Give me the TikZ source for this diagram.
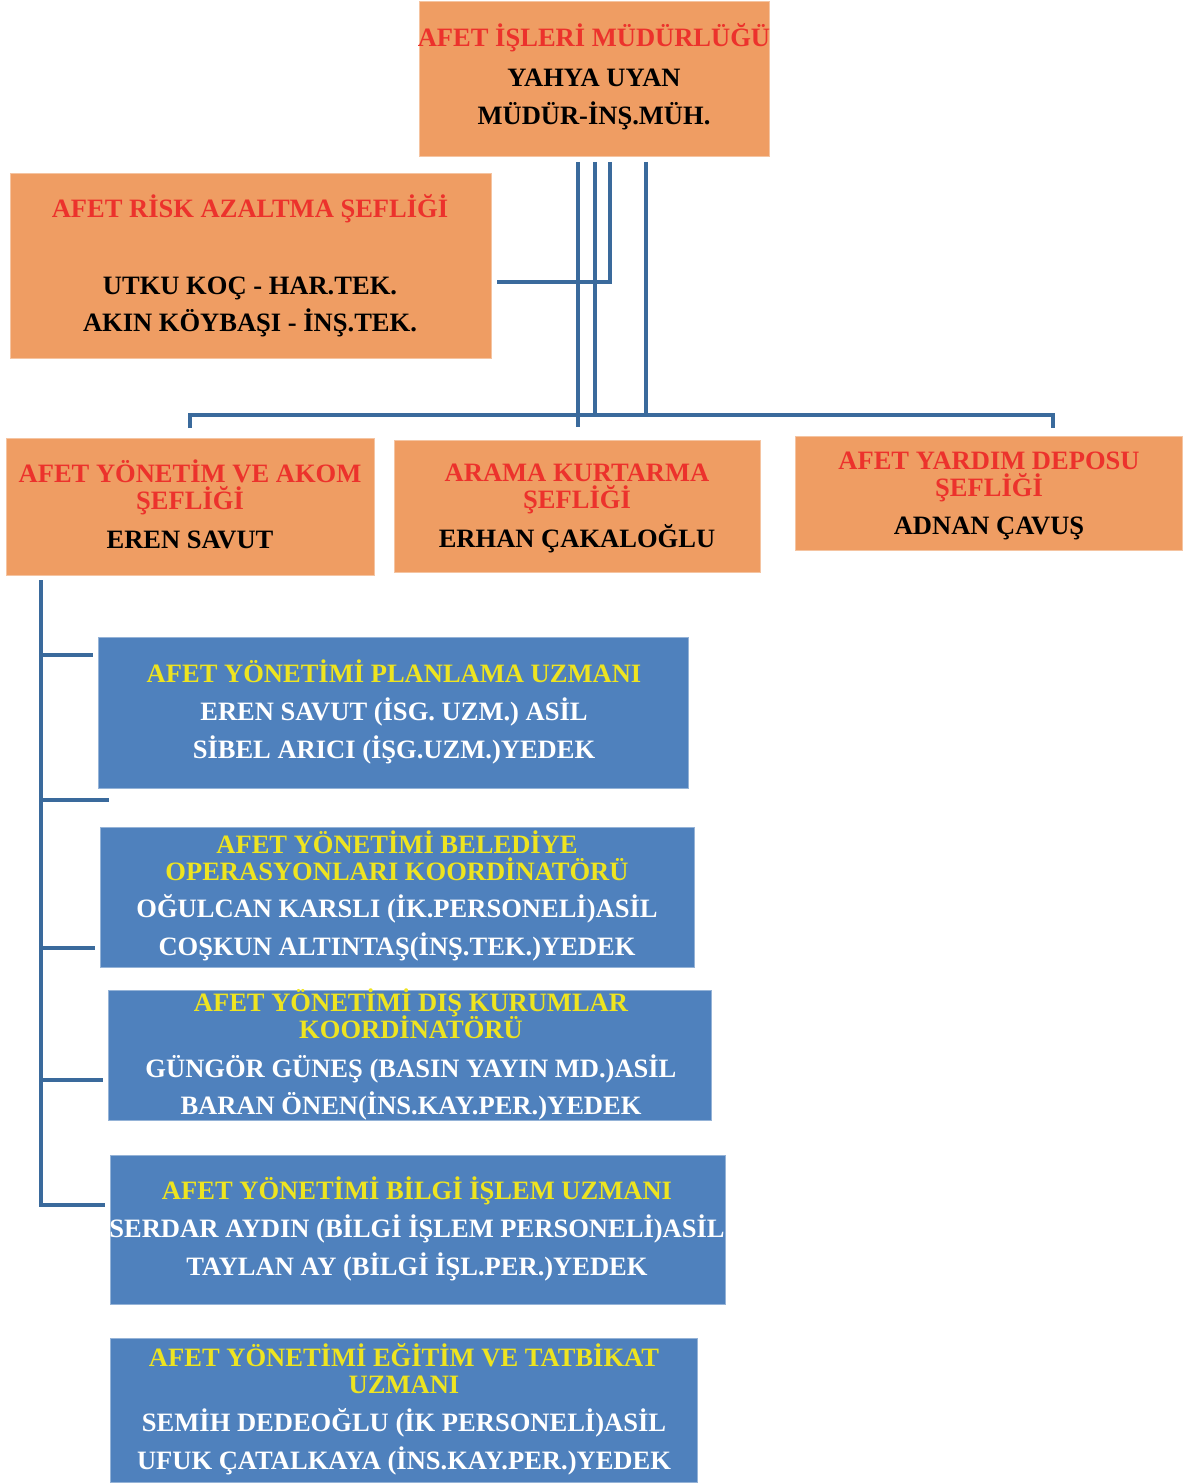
\documentclass[tikz,border=0pt]{standalone}
\usepackage{fontspec}
\setmainfont{Liberation Serif}
\usetikzlibrary{fit}
\definecolor{orfill}{RGB}{239,157,99}
\definecolor{blfill}{RGB}{79,129,189}
\definecolor{conn}{RGB}{58,106,156}
\definecolor{redt}{RGB}{236,50,44}
\definecolor{yelt}{RGB}{238,228,32}
\begin{document}
\begin{tikzpicture}[x=0.75pt,y=-0.75pt,
 obox/.style={fill=orfill, draw=orfill!60!white, line width=0.6pt, inner sep=0pt},
 bbox/.style={fill=blfill, draw=blfill!60!white, line width=0.6pt, inner sep=0pt},
 txt/.style={anchor=base, inner sep=0pt, font=\fontsize{19.9}{20}\selectfont\bfseries},
 rt/.style={txt, text=redt}, kt/.style={txt, text=black},
 yt/.style={txt, text=yelt}, wt/.style={txt, text=white},
 link/.style={draw=conn, line width=3.7pt}]
\useasboundingbox (0,0) rectangle (1184,1484);
% orange boxes
\node[obox, fit={(419,1) (769,156)}] (mud) {};
\node[obox, fit={(10,173) (491,358)}] (risk) {};
\node[obox, fit={(6,438) (374,575)}] (akom) {};
\node[obox, fit={(394,440) (760,572)}] (arama) {};
\node[obox, fit={(795,436) (1182,550)}] (depo) {};
% blue boxes
\node[bbox, fit={(98,637) (688,788)}] (b1) {};
\node[bbox, fit={(100,827) (694,967)}] (b2) {};
\node[bbox, fit={(108,990) (711,1120)}] (b3) {};
\node[bbox, fit={(110,1155) (725,1304)}] (b4) {};
\node[bbox, fit={(110,1338) (697,1482)}] (b5) {};
% texts
\node[rt] (mud1) at (594,47) {AFET İŞLERİ MÜDÜRLÜĞÜ};
\node[kt] (mud2) at (594,87) {YAHYA UYAN};
\node[kt] (mud3) at (594,125) {MÜDÜR-İNŞ.MÜH.};
\node[rt] (risk1) at (250,217) {AFET RİSK AZALTMA ŞEFLİĞİ};
\node[kt] (risk2) at (250,294) {UTKU KOÇ - HAR.TEK.};
\node[kt] (risk3) at (250,331) {AKIN KÖYBAŞI - İNŞ.TEK.};
\node[rt] (akom1) at (190,482) {AFET YÖNETİM VE AKOM};
\node[rt] (akom2) at (190,509) {ŞEFLİĞİ};
\node[kt] (akom3) at (190,548) {EREN SAVUT};
\node[rt] (arama1) at (577,481) {ARAMA KURTARMA};
\node[rt] (arama2) at (577,508) {ŞEFLİĞİ};
\node[kt] (arama3) at (577,547) {ERHAN ÇAKALOĞLU};
\node[rt] (depo1) at (989,469) {AFET YARDIM DEPOSU};
\node[rt] (depo2) at (989,496) {ŞEFLİĞİ};
\node[kt] (depo3) at (989,534) {ADNAN ÇAVUŞ};
\node[yt] (b1a) at (394,682) {AFET YÖNETİMİ PLANLAMA UZMANI};
\node[wt] (b1b) at (394,720) {EREN SAVUT (İSG. UZM.) ASİL};
\node[wt] (b1c) at (394,758) {SİBEL ARICI (İŞG.UZM.)YEDEK};
\node[yt] (b2a) at (397,853) {AFET YÖNETİMİ BELEDİYE};
\node[yt] (b2b) at (397,880) {OPERASYONLARI KOORDİNATÖRÜ};
\node[wt] (b2c) at (397,917) {OĞULCAN KARSLI (İK.PERSONELİ)ASİL};
\node[wt] (b2d) at (397,955) {COŞKUN ALTINTAŞ(İNŞ.TEK.)YEDEK};
\node[yt] (b3a) at (411,1011) {AFET YÖNETİMİ DIŞ KURUMLAR};
\node[yt] (b3b) at (411,1038) {KOORDİNATÖRÜ};
\node[wt] (b3c) at (411,1077) {GÜNGÖR GÜNEŞ (BASIN YAYIN MD.)ASİL};
\node[wt] (b3d) at (411,1114) {BARAN ÖNEN(İNS.KAY.PER.)YEDEK};
\node[yt] (b4a) at (417,1199) {AFET YÖNETİMİ BİLGİ İŞLEM UZMANI};
\node[wt] (b4b) at (417,1237) {SERDAR AYDIN (BİLGİ İŞLEM PERSONELİ)ASİL};
\node[wt] (b4c) at (417,1275) {TAYLAN AY (BİLGİ İŞL.PER.)YEDEK};
\node[yt] (b5a) at (404,1366) {AFET YÖNETİMİ EĞİTİM VE TATBİKAT};
\node[yt] (b5b) at (404,1393) {UZMANI};
\node[wt] (b5c) at (404,1431) {SEMİH DEDEOĞLU (İK PERSONELİ)ASİL};
\node[wt] (b5d) at (404,1469) {UFUK ÇATALKAYA (İNS.KAY.PER.)YEDEK};
% connector points
\coordinate (c1) at (578,162);
\coordinate (c2) at (595,162);
\coordinate (c3) at (610,162);
\coordinate (c4) at (646,162);
\coordinate (c1e) at (578,427);
\coordinate (rk) at (497,282);
\coordinate (busL) at (190,415);
\coordinate (busR) at (1053,415);
\coordinate (dropA) at (190,428);
\coordinate (dropC) at (1053,428);
\coordinate (lt) at (41,580);
\coordinate (lb) at (41,1205);
\coordinate (s1) at (93,655);
\coordinate (s2) at (109,800);
\coordinate (s3) at (95,948);
\coordinate (s4) at (103,1080);
\coordinate (s5) at (105,1205);
% connectors
\draw[link] (c1) -- (c1e);
\draw[link] (c2) -- (c2 |- busL);
\draw[link] (c4) -- (c4 |- busL);
\draw[link] (c3) -- (c3 |- rk) -- (rk);
\draw[link] (dropA) -- (busL) -- (busR) -- (dropC);
\draw[link] (lt) -- (lb) -- (s5);
\draw[link] (lt |- s1) -- (s1);
\draw[link] (lt |- s2) -- (s2);
\draw[link] (lt |- s3) -- (s3);
\draw[link] (lt |- s4) -- (s4);
\end{tikzpicture}
\end{document}
